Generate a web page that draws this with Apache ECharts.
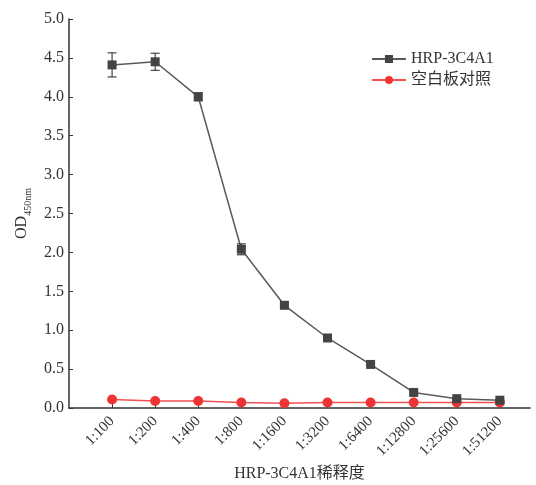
<!DOCTYPE html>
<html><head><meta charset="utf-8">
<script src="https://cdn.jsdelivr.net/npm/echarts@6/dist/echarts.min.js"></script>
<style>html,body{margin:0;padding:0;background:#fff}#c{width:536px;height:485px}</style>
</head><body><div id="c"></div>
<script>
const categories = ['1:100','1:200','1:400','1:800','1:1600','1:3200','1:6400','1:12800','1:25600','1:51200'];
const hrpValues = [4.41, 4.45, 4.00, 2.04, 1.32, 0.90, 0.56, 0.20, 0.12, 0.10];
const hrpErrors = [0.155, 0.11, 0.05, 0.07, 0.02, 0.02, 0.02, 0.02, 0.01, 0.01];
const blankValues = [0.11, 0.09, 0.09, 0.07, 0.06, 0.07, 0.07, 0.07, 0.07, 0.07];
const yTicks = ['0.0','0.5','1.0','1.5','2.0','2.5','3.0','3.5','4.0','4.5','5.0'];

const serif = '"Liberation Serif","Times New Roman",serif';
const cjk = '"Liberation Serif","Noto Sans CJK SC",serif';
const chart = echarts.init(document.getElementById('c'));
const hrpData = hrpValues.map((v,i)=>[i,v]);
const blankData = blankValues.map((v,i)=>[i,v]);
const errData = hrpValues.map((v,i)=>[i, v-hrpErrors[i], v+hrpErrors[i]]);

chart.setOption({
  animation:false,
  grid:{left:69,right:6,top:19,bottom:77,containLabel:false,outerBoundsMode:'none'},
  legend:{
    left:366, top:46, orient:'vertical', itemGap:5, itemWidth:34, itemHeight:10,
    textStyle:{fontFamily:cjk, fontSize:16, color:'#333'},
    data:['HRP-3C4A1','空白板对照']
  },
  xAxis:{
    type:'value', min:-1, max:9.7, interval:1,
    name:'HRP-3C4A1稀释度', nameLocation:'middle', nameGap:53,
    nameTextStyle:{fontFamily:cjk, fontSize:16, color:'#333'},
    axisLine:{onZero:false, lineStyle:{color:'#333', width:1.5}},
    axisTick:{show:true, inside:true, length:4, lineStyle:{color:'#333'}},
    splitLine:{show:false},
    axisLabel:{
      rotate:45, fontFamily:serif, fontSize:15, color:'#333', margin:11,
      showMaxLabel:false, showMinLabel:false,
      formatter:function(v){ return (Number.isInteger(v) && v>=0 && v<categories.length) ? categories[v] : ''; }
    }
  },
  yAxis:{
    type:'value', min:0, max:5, interval:0.5,
    name:'{a|OD}{b|450nm}', nameLocation:'middle', nameGap:37, nameRotate:90,
    nameTextStyle:{rich:{
      a:{fontFamily:serif, fontSize:16, color:'#333', verticalAlign:'bottom'},
      b:{fontFamily:serif, fontSize:10, color:'#333', verticalAlign:'bottom', padding:[0,0,-3,0]}
    }},
    axisLine:{show:true, onZero:false, lineStyle:{color:'#333', width:1.5}},
    axisTick:{show:true, inside:true, length:4, lineStyle:{color:'#333'}},
    splitLine:{show:false},
    axisLabel:{fontFamily:serif, fontSize:16, color:'#333', margin:5,
      formatter:function(v){ return yTicks[Math.round(v/0.5)]; }}
  },
  series:[
    {
      name:'HRP-3C4A1', type:'line', data:hrpData, symbol:'rect', symbolSize:9,
      lineStyle:{color:'#5a5a5a', width:1.5}, itemStyle:{color:'#444'}, z:3
    },
    {
      name:'空白板对照', type:'line', data:blankData, symbol:'circle', symbolSize:10,
      lineStyle:{color:'#f05050', width:1.5}, itemStyle:{color:'#ee3333'}, z:2
    },
    {
      type:'custom', data:errData, z:4, silent:true,
      renderItem:function(params, api){
        const x = api.value(0);
        const lo = api.coord([x, api.value(1)]);
        const hi = api.coord([x, api.value(2)]);
        const w = 4.5;
        const st = {stroke:'#444', lineWidth:1.2};
        return {type:'group', children:[
          {type:'line', shape:{x1:lo[0],y1:lo[1],x2:hi[0],y2:hi[1]}, style:st},
          {type:'line', shape:{x1:lo[0]-w,y1:lo[1],x2:lo[0]+w,y2:lo[1]}, style:st},
          {type:'line', shape:{x1:hi[0]-w,y1:hi[1],x2:hi[0]+w,y2:hi[1]}, style:st}
        ]};
      }
    }
  ]
});
</script></body></html>
